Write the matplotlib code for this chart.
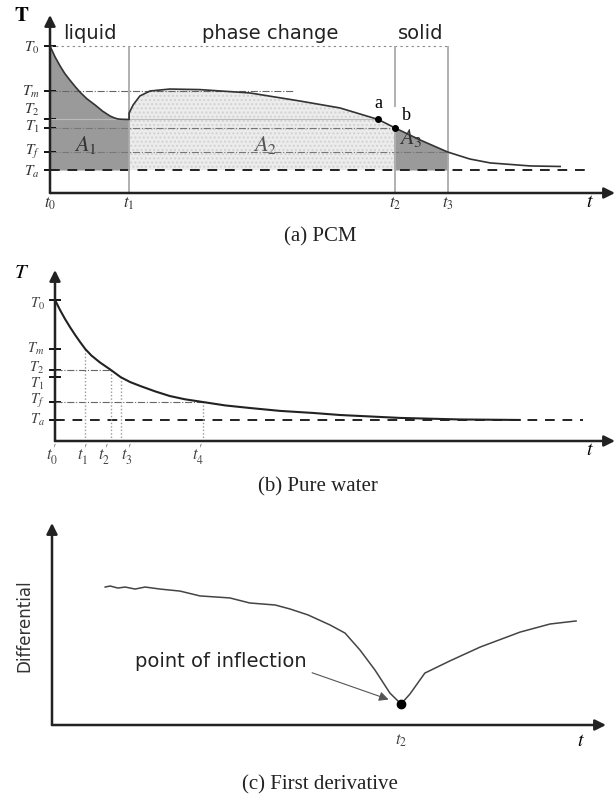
import matplotlib.pyplot as plt
import numpy as np
from matplotlib.transforms import ScaledTranslation

plt.rcParams['mathtext.fontset'] = 'stix'
plt.rcParams['font.family'] = 'DejaVu Sans'

W, H = 616, 796

# ---- (a) PCM cooling curve (arbitrary units, 0-100) ----
pcm_levels = [82.5, 57.3, 41.3, 36.5, 23.0, 12.9]
pcm_level_labels = [r'$T_0$', r'$T_m$', r'$T_2$', r'$T_1$', r'$T_f$', r'$T_a$']
pcm_times = [0.0, 14.0, 61.1, 70.4]
pcm_time_labels = [r'$t_0$', r'$t_1$', r'$t_2$', r'$t_3$']
liq_t = [0.0, 0.45, 0.9, 1.8, 2.6, 3.5, 4.4, 5.3, 6.5, 8.0, 9.3, 10.6, 11.3, 12.0, 12.8, 14.0]
liq_T = [82.5, 79.5, 76.4, 71.3, 67.2, 63.5, 60.0, 56.7, 53.0, 49.4, 46.0, 43.3, 42.3, 41.6, 41.4, 41.3]
pc_t = [14.0, 14.7, 15.9, 17.7, 21.2, 26.5, 35.4, 44.2, 51.3, 58.1, 61.1,
        65.5, 70.4, 74.3, 77.9, 85.0, 90.3]
pc_T = [44.9, 49.4, 54.5, 57.3, 58.4, 58.1, 56.2, 51.7, 47.8, 41.3, 36.5,
        29.8, 23.0, 19.1, 16.9, 15.2, 14.9]
point_a = (58.1, 41.3)
point_b = (61.1, 36.5)

# ---- (b) pure water ----
w_levels = [82.5, 53.8, 41.5, 37.4, 22.8, 12.3]
w_level_labels = [r'$T_0$', r'$T_m$', r'$T_2$', r'$T_1$', r'$T_f$', r'$T_a$']
w_times = [0.0, 5.4, 10.0, 11.7, 26.4]
w_time_labels = [r'$t_0^{\prime}$', r'$t_1^{\prime}$', r'$t_2^{\prime}$',
                 r'$t_3^{\prime}$', r'$t_4^{\prime}$']
w_t = [0.0, 0.9, 1.8, 2.7, 3.6, 4.5, 5.4, 6.5, 8.0, 10.0, 11.7, 13.4, 15.2,
       17.9, 20.5, 23.2, 26.4, 30.4, 34.8, 40.2, 46.1, 50.9, 61.6, 72.3, 83.0]
w_T = [82.5, 76.6, 71.3, 66.5, 62.0, 57.8, 53.8, 50.0, 46.0, 41.5, 37.4, 34.5,
       32.2, 29.0, 26.3, 24.4, 22.8, 20.8, 19.3, 17.6, 16.4, 15.2, 13.5, 12.6, 12.3]

# ---- (c) first derivative ----
d_t = [9.6, 10.5, 11.9, 13.2, 15.0, 16.8, 19.5, 23.1, 26.7, 29.4, 32.1, 35.7,
       40.3, 43.0, 46.2, 50.2, 52.9, 55.6, 58.3, 61.0, 63.0, 64.6, 67.3, 71.8,
       77.3, 84.5, 89.9, 94.6]
d_D = [68.3, 68.8, 67.8, 68.3, 67.3, 68.3, 67.3, 66.3, 63.9, 63.4, 62.9, 60.4,
       59.4, 57.4, 54.5, 49.5, 45.5, 37.1, 27.2, 15.8, 10.4, 15.3, 25.7, 31.7,
       38.6, 46.0, 50.0, 51.5]
inflection = (63.0, 10.4)

fig = plt.figure(figsize=(W / 100, H / 100), dpi=100)


def px_axes(x0, y0, x1, y1):
    ax = fig.add_axes([x0 / W, 1 - y1 / H, (x1 - x0) / W, (y1 - y0) / H])
    ax.set_xlim(0, 100)
    ax.set_ylim(0, 100)
    for s in ax.spines.values():
        s.set_visible(False)
    arrow = dict(arrowstyle='-|>', color='#222', lw=1.8, mutation_scale=16,
                 shrinkA=0, shrinkB=0)
    ax.annotate('', xy=(1, 0), xytext=(0, 0), xycoords='axes fraction', arrowprops=arrow)
    ax.annotate('', xy=(0, 1), xytext=(0, 0), xycoords='axes fraction', arrowprops=arrow)
    ax.tick_params(axis='y', direction='inout', length=9, width=1.3, labelsize=11, pad=3)
    ax.tick_params(axis='x', length=0, labelsize=12, pad=1)
    return ax


def shift_labels(labels, shifts):
    for lab, dy in zip(labels, shifts):
        lab.set_transform(lab.get_transform() + ScaledTranslation(0, dy / 100, fig.dpi_scale_trans))


# ── (a) PCM ──────────────────────────────────────────────
ax = px_axes(50, 15, 615, 193)
pc_t_arr, pc_T_arr = np.array(pc_t), np.array(pc_T)
t1, t2, t3 = pcm_times[1:]
ta = pcm_levels[5]
ax.fill_between(liq_t, ta, liq_T, color='#9a9a9a', lw=0)
m2 = pc_t_arr <= t2 + 1e-9
ax.fill_between(pc_t_arr[m2], ta, pc_T_arr[m2], facecolor='#ececec',
                edgecolor='#d2d2d2', hatch='....', lw=0)
m3 = (pc_t_arr >= t2 - 1e-9) & (pc_t_arr <= t3 + 1e-9)
ax.fill_between(pc_t_arr[m3], ta, pc_T_arr[m3], color='#9a9a9a', lw=0)

ax.hlines(pcm_levels[0], 0, t3, colors='#888', linestyles=(0, (2, 3)), lw=0.8)
ax.hlines(pcm_levels[1], 0, 43.0, colors='#666', linestyles='-.', lw=0.8)
ax.hlines(pcm_levels[2], 0, point_a[0], colors='#bbb', lw=0.8)
ax.hlines(pcm_levels[3], 0, t2, colors='#777', linestyles='-.', lw=0.8)
ax.hlines(pcm_levels[4], 0, t3, colors='#777', linestyles='-.', lw=0.8)
ax.hlines(ta, 0, 95.6, colors='#222', linestyles=(0, (5, 4)), lw=1.4)
ax.vlines([t1, t3], 0, pcm_levels[0], colors='#aaa', lw=1.3)
ax.vlines(t2, 0, 38.2, colors='#aaa', lw=1.3)
ax.vlines(t2, 48.3, pcm_levels[0], colors='#aaa', lw=1.3)

ax.plot(liq_t + pc_t, liq_T + pc_T, color='#333', lw=1.2)
ax.plot(*point_a, 'o', color='k', ms=4)
ax.plot(*point_b, 'o', color='k', ms=4)
ax.text(point_a[0], point_a[1] + 4, 'a', family='Liberation Serif', fontsize=13,
        ha='center', va='bottom')
ax.text(point_b[0] + 1.2, point_b[1] + 2, 'b', family='Liberation Serif', fontsize=13,
        ha='left', va='bottom')

ax.text(7.1, 89.8, 'liquid', fontsize=14, ha='center', va='center', color='#222')
ax.text(38.9, 89.8, 'phase change', fontsize=14, ha='center', va='center', color='#222')
ax.text(65.6, 89.8, 'solid', fontsize=14, ha='center', va='center', color='#222')
ax.text(6.2, 27, r'$A_1$', fontsize=16, ha='center', va='center', color='#333')
ax.text(38.0, 27, r'$A_2$', fontsize=16, ha='center', va='center', color='#555')
ax.text(63.8, 31, r'$A_3$', fontsize=16, ha='center', va='center', color='#333')

ax.set_yticks(pcm_levels)
ax.set_yticklabels(pcm_level_labels, color='#333')
shift_labels(ax.get_yticklabels(), [0, 1, 12, 3, 3, 0])
ax.set_xticks(pcm_times)
ax.set_xticklabels(pcm_time_labels, color='#333')
ax.text(0.955, -0.045, r'$t$', transform=ax.transAxes, fontsize=14, ha='center', va='center')
ax.text(-0.05, 1.0, r'$\mathbf{T}$', transform=ax.transAxes, fontsize=15, ha='center', va='center')
fig.text(320 / W, 1 - 237 / H, '(a) PCM', family='Liberation Serif', fontsize=15,
         ha='center', va='center', color='#222')

# ── (b) Pure water ───────────────────────────────────────
ax = px_axes(55, 270, 615, 441)
ax.hlines(w_levels[5], 0, 94.3, colors='#222', linestyles=(0, (5, 4)), lw=1.4)
ax.hlines([w_levels[2], w_levels[4]], 0, [w_times[2], w_times[4]], colors='#666',
          linestyles='-.', lw=0.8)
ax.vlines(w_times[1:], 0, [w_levels[1], w_levels[2], w_levels[3], w_levels[4]],
          colors='#999', linestyles=(0, (1, 1.5)), lw=1.0)
ax.plot(w_t, w_T, color='#222', lw=1.5)
ax.set_yticks(w_levels)
ax.set_yticklabels(w_level_labels, color='#444')
ax.tick_params(axis='y', labelsize=10.5)
shift_labels(ax.get_yticklabels(), [-2, 2, 4, -5, 4, 2])
ax.set_xticks(w_times)
ax.set_xticklabels(w_time_labels, color='#444')
xl = ax.get_xticklabels()
for lab, dx in zip(xl, [-3, -3, -7, 6, -5]):
    lab.set_transform(lab.get_transform() + ScaledTranslation(dx / 100, 0, fig.dpi_scale_trans))
ax.text(0.955, -0.05, r'$t$', transform=ax.transAxes, fontsize=14, ha='center', va='center')
ax.text(-0.059, 0.99, r'$T$', transform=ax.transAxes, fontsize=15, ha='center', va='center')
fig.text(318 / W, 1 - 487 / H, '(b) Pure water', family='Liberation Serif', fontsize=15,
         ha='center', va='center', color='#222')

# ── (c) First derivative ─────────────────────────────────
ax = px_axes(52, 523, 606, 725)
ax.plot(d_t, d_D, color='#444', lw=1.1)
ax.plot(*inflection, 'o', color='k', ms=6)
ax.annotate('point of inflection', xy=(61.0, 12.4), xytext=(15.0, 31.5),
            fontsize=14, ha='left', va='center', color='#222',
            arrowprops=dict(arrowstyle='-|>', color='#555', lw=0.8,
                            relpos=(1.0, 0.0), shrinkA=2, shrinkB=1))
ax.set_yticks([])
ax.set_xticks([inflection[0]])
ax.set_xticklabels([r'$t_2$'], color='#444')
ax.tick_params(axis='x', pad=4)
ax.text(0.955, -0.075, r'$t$', transform=ax.transAxes, fontsize=14, ha='center', va='center')
ax.text(-0.05, 0.49, 'Differential', transform=ax.transAxes, rotation=90, fontsize=12,
        ha='center', va='center', color='#333')
fig.text(320 / W, 1 - 785 / H, '(c) First derivative', family='Liberation Serif', fontsize=15,
         ha='center', va='center', color='#222')

fig.savefig('out.png', dpi=100)
